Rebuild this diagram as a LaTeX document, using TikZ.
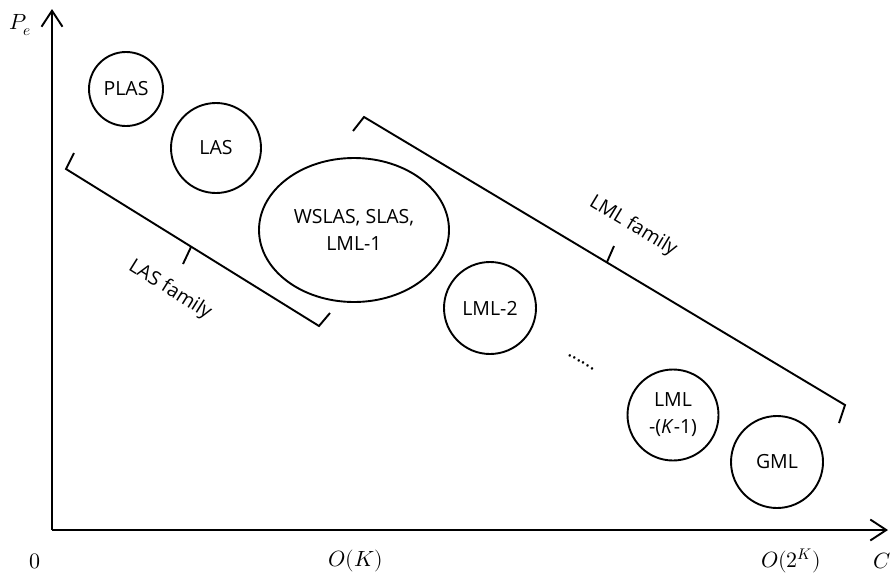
\documentclass[tikz,border=0pt]{standalone}
\usepackage{fontspec}
\usepackage{unicode-math}
\setmathfont{Latin Modern Math}
\setsansfont{Open Sans}
\usetikzlibrary{arrows.meta,shapes.geometric}

\begin{document}
\begin{tikzpicture}[x=1pt,y=-1pt,
  line width=1.9pt,
  lbl/.style={font=\sffamily\fontsize{19.5}{27}\selectfont, align=center, inner sep=0pt},
  algo/.style={lbl, draw, circle, line width=1.9pt},
  algoell/.style={lbl, draw, ellipse, line width=1.9pt},
  axislbl/.style={font=\fontsize{22}{26}\selectfont, inner sep=0pt},
  axisarrow/.style={-{Straight Barb[length=16pt,width=21pt,line width=1.9pt]}},
  brace/.style={line width=1.9pt, line join=miter}
]
\useasboundingbox (0,0) rectangle (890,573);

% axes
\coordinate (origin) at (52,530);
\coordinate (ytop) at (52,9);
\coordinate (xend) at (888,530);
\draw[axisarrow] (origin) -- (ytop);
\draw[axisarrow] (origin) -- (xend);

% axis labels
\node[axislbl] (pe) at (20,25) {$P_e$};
\node[axislbl] (zero) at (35,561) {$0$};
\node[axislbl] (ok) at (356,561) {$O(K)$};
\node[axislbl] (o2k) at (791,561) {$O(2^K)$};
\node[axislbl] (cc) at (882,561) {$C$};

% schemes
\node[algo, minimum size=74pt] (plas) at (126,89) {PLAS};
\node[algo, minimum size=90pt] (las) at (216,148) {LAS};
\node[algoell, minimum width=190pt, minimum height=144pt] (wslas) at (354,230) {WSLAS, SLAS,\\LML-1};
\node[algo, minimum size=92pt] (lml2) at (490,308) {LML-2};
\node[lbl, rotate=-30] (dots) at (581,362) {......};
\node[algo, minimum size=91pt] (lmlk) at (673,415) {LML\\-(\textit{K}-1)};
\node[algo, minimum size=92pt] (gml) at (777,462) {GML};

% LAS family brace
\coordinate (la1) at (74,153);
\coordinate (la2) at (66,169);
\coordinate (lm1) at (191,247);
\coordinate (lm2) at (183,264);
\coordinate (la3) at (319,326);
\coordinate (la4) at (330,313);
\draw[brace] (la1) -- (la2) -- (la3) -- (la4);
\draw[brace] (lm1) -- (lm2);
\node[lbl, rotate=-32] (lasfam) at (170,290) {LAS family};

% LML family brace
\coordinate (lb1) at (353,131);
\coordinate (lb2) at (364,117);
\coordinate (lbm1) at (607,262);
\coordinate (lbm2) at (614,246);
\coordinate (lb3) at (845,405);
\coordinate (lb4) at (839,423);
\draw[brace] (lb1) -- (lb2) -- (lb3) -- (lb4);
\draw[brace] (lbm1) -- (lbm2);
\node[lbl, rotate=-31] (lmlfam) at (633,226) {LML family};
\end{tikzpicture}
\end{document}
